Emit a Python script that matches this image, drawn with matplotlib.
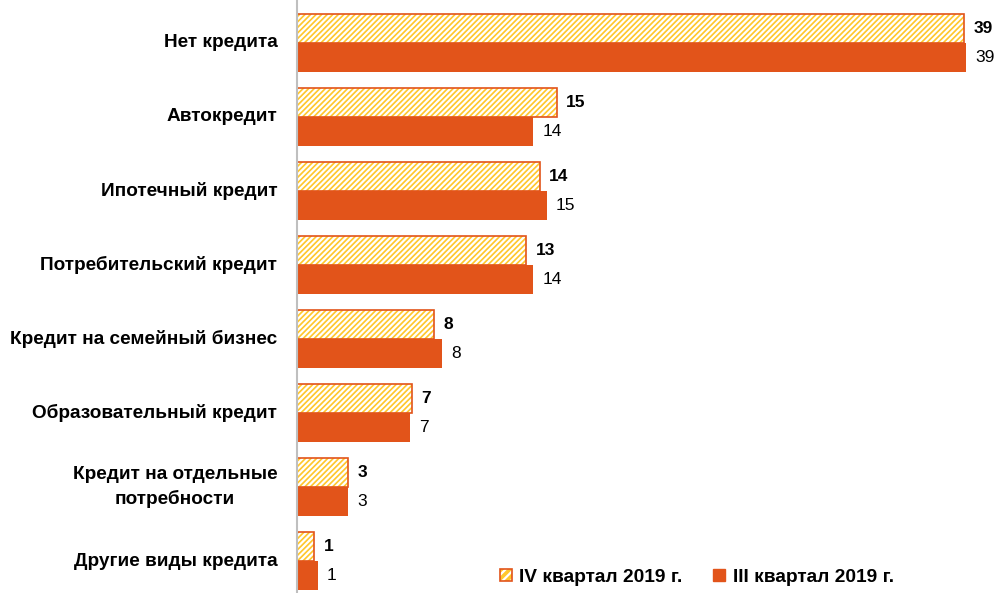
import numpy as np
import matplotlib.pyplot as plt
from matplotlib.patches import Patch
from matplotlib.legend_handler import HandlerTuple

categories = ["Нет кредита", "Автокредит", "Ипотечный кредит", "Потребительский кредит",
              "Кредит на семейный бизнес", "Образовательный кредит",
              "Кредит на отдельные\nпотребности", "Другие виды кредита"]
q4 = [39.0, 15.2, 14.2, 13.4, 8.0, 6.7, 3.0, 1.0]
q3 = [39.1, 13.8, 14.6, 13.8, 8.5, 6.6, 3.0, 1.2]
q4_labels = ["39", "15", "14", "13", "8", "7", "3", "1"]
q3_labels = ["39", "14", "15", "14", "8", "7", "3", "1"]

orange = "#E2541A"
yellow = "#FFC72C"

plt.rcParams['font.family'] = ['Liberation Sans Narrow', 'Liberation Sans', 'DejaVu Sans']
plt.rcParams['hatch.linewidth'] = 1.6

fig = plt.figure(figsize=(9.98, 5.93), dpi=100)
ax = fig.add_axes([297/998, 0, 1 - 297/998, 1])

y = np.arange(len(categories))
h = 0.395
ax.barh(y - h/2, q4, height=h, color=yellow, edgecolor='white', hatch='//////', linewidth=0)
ax.barh(y - h/2, q4, height=h, fill=False, edgecolor=orange, linewidth=1.2)
ax.barh(y + h/2, q3, height=h, color=orange, linewidth=0)

for i in range(len(categories)):
    ax.text(q4[i] + 0.55, y[i] - h/2, q4_labels[i], va='center', ha='left',
            fontsize=12.5, fontweight='bold')
    ax.text(q3[i] + 0.55, y[i] + h/2, q3_labels[i], va='center', ha='left', fontsize=12.5)
    ax.text(-1.15, y[i], categories[i], va='center', ha='right', fontsize=13.7,
            fontweight='bold', multialignment='center', linespacing=1.45)

ax.set_xlim(0, 41)
ax.set_ylim(7.43, -0.58)
ax.set_xticks([])
ax.set_yticks([])
for s in ['top', 'right', 'bottom']:
    ax.spines[s].set_visible(False)
ax.spines['left'].set_color('#BFBFBF')
ax.spines['left'].set_linewidth(1.5)

hatched = (Patch(facecolor=yellow, edgecolor='white', hatch='////', linewidth=0),
           Patch(fill=False, edgecolor=orange, linewidth=1.2))
solid = Patch(facecolor=orange, edgecolor=orange)
fig.legend([hatched, solid], ["IV квартал 2019 г.", "III квартал 2019 г."], loc='center',
           bbox_to_anchor=(697/998, 1 - 577/593), ncol=2, frameon=False,
           prop={'size': 13.8, 'weight': 'bold'}, handlelength=0.6, handleheight=0.6,
           handletextpad=0.4, columnspacing=1.6,
           handler_map={tuple: HandlerTuple(ndivide=1)})

fig.savefig("out.png", dpi=100)
